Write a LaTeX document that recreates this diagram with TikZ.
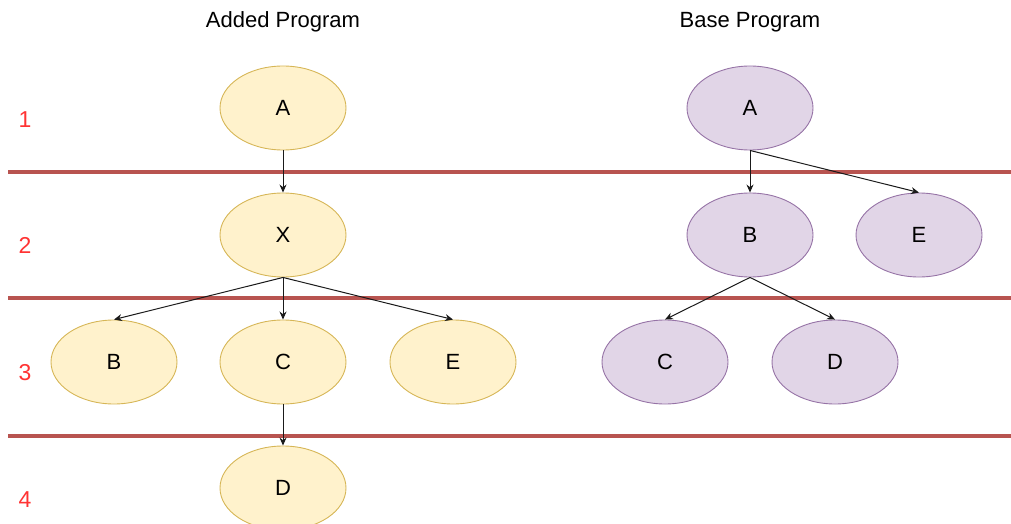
\documentclass[tikz,border=0pt]{standalone}
\usepackage{fontspec}
\setmainfont{Liberation Sans}
\usetikzlibrary{shapes.geometric,arrows.meta}

\definecolor{addfill}{HTML}{FFF2CC}
\definecolor{adddraw}{HTML}{D6B656}
\definecolor{basefill}{HTML}{E1D5E7}
\definecolor{basedraw}{HTML}{9673A6}
\definecolor{sepline}{HTML}{B85450}
\definecolor{rownum}{HTML}{FF3333}
\definecolor{edgecol}{HTML}{1A1A1A}

\begin{document}
\begin{tikzpicture}[x=1pt,y=-1pt,>={Stealth[length=8pt,width=7pt]},
    prog/.style={ellipse, minimum width=126pt, minimum height=84pt,
        inner sep=0pt, line width=0.9pt, font=\fontsize{22}{26}\selectfont},
    added/.style={prog, draw=adddraw, fill=addfill},
    base/.style={prog, draw=basedraw, fill=basefill},
    edge/.style={->, draw=edgecol, line width=1pt}
]

    \useasboundingbox (0,0) rectangle (1011,524);

    % Trennlinien
    \foreach \y in {172,298,436}{
        \draw[sepline, line width=3.5pt] (8,\y) -- (1011,\y);
    }

    % Ebenen
    \foreach \n/\y in {1/120,2/245,3/373,4/500}{
        \node[text=rownum, font=\fontsize{23}{27}\selectfont]
            (row\n) at (25,\y) {\n};
    }

    % Titel
    \node[font=\fontsize{22}{26}\selectfont] (addtitle) at (283,22) {Added Program};
    \node[font=\fontsize{22}{26}\selectfont] (basetitle) at (750,22) {Base Program};

    % Hinzugefuegtes Programm
    \node[added] (aA) at (283,108) {A};
    \node[added] (aX) at (283,235) {X};
    \node[added] (aB) at (114,362) {B};
    \node[added] (aC) at (283,362) {C};
    \node[added] (aE) at (453,362) {E};
    \node[added] (aD) at (283,488) {D};

    \draw[edge] (aA.south) -- (aX.north);
    \draw[edge] (aX.south) -- (aB.north);
    \draw[edge] (aX.south) -- (aC.north);
    \draw[edge] (aX.south) -- (aE.north);
    \draw[edge] (aC.south) -- (aD.north);

    % Basisprogramm
    \node[base] (bA) at (750,108) {A};
    \node[base] (bB) at (750,235) {B};
    \node[base] (bE) at (919,235) {E};
    \node[base] (bC) at (665,362) {C};
    \node[base] (bD) at (835,362) {D};

    \draw[edge] (bA.south) -- (bB.north);
    \draw[edge] (bA.south) -- (bE.north);
    \draw[edge] (bB.south) -- (bC.north);
    \draw[edge] (bB.south) -- (bD.north);

\end{tikzpicture}
\end{document}
